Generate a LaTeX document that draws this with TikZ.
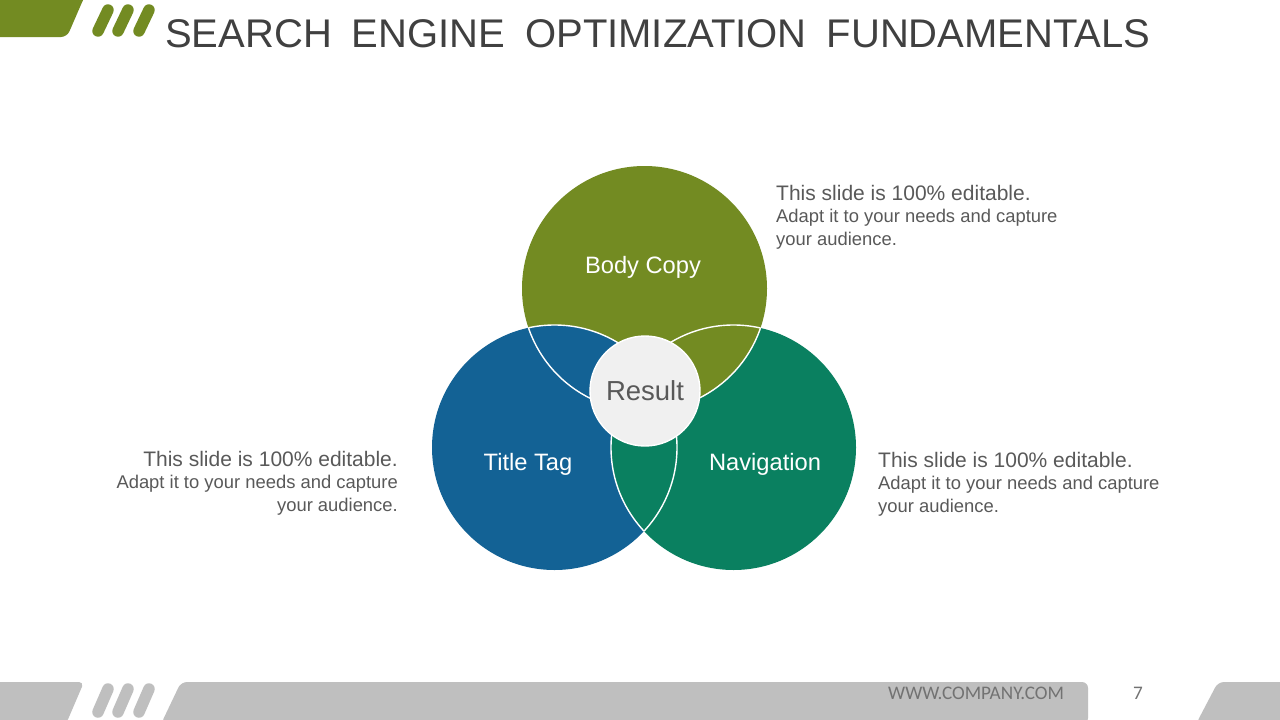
\documentclass[tikz,border=0pt]{standalone}
\usepackage{fontspec}
\setmainfont{Liberation Sans}
\newfontfamily\footfont{Carlito}
\definecolor{myolive}{HTML}{738B22}
\definecolor{myblue}{HTML}{136295}
\definecolor{myteal}{HTML}{0A8060}
\definecolor{resgray}{HTML}{F0F0F0}
\definecolor{txtgray}{HTML}{595959}
\definecolor{titlegray}{HTML}{404040}
\definecolor{footgray}{HTML}{BFBFBF}
\tikzset{
  venn/.style={circle, minimum size=245pt, inner sep=0pt},
  lensline/.style={draw=white, line width=1.4pt},
  bar/.style={line width=11.5pt, line cap=round},
  label/.style={text=white, font=\fontsize{23.7}{28}\selectfont, inner sep=0pt},
  blurb/.style={text=txtgray, font=\fontsize{18.4}{22.5}\selectfont, inner sep=0pt},
}
\newcommand{\firstline}[1]{{\fontsize{21}{22.5}\selectfont #1}}
\newcommand{\wsp}{\hskip 20pt\relax}
\begin{document}
\begin{tikzpicture}[x=1pt,y=-1pt]
\useasboundingbox (0,0) rectangle (1280,720);
\fill[white] (0,0) rectangle (1280,720);

% top-left decoration
\fill[myolive, rounded corners=6pt] (-10,-10) -- (88,-10) -- (83,0) -- (67,37) -- (-10,37) -- cycle;
\draw[bar, myolive] (108,10) -- (98,31);
\draw[bar, myolive] (128,10) -- (118,31);
\draw[bar, myolive] (149,10) -- (139,31);

% title
\node[anchor=base west, inner sep=0pt, text=titlegray, font=\fontsize{40}{48}\selectfont] (title) at (165,47) {SEARCH\wsp ENGINE\wsp OPTIMIZATION\wsp FUNDAMENTALS};

% footer
\fill[footgray, rounded corners=5pt] (-10,682) -- (84,682) -- (66,724) -- (-10,724) -- cycle;
\draw[bar, footgray] (108,689) -- (98,712);
\draw[bar, footgray] (128,689) -- (118,712);
\draw[bar, footgray] (149,689) -- (139,712);
\fill[footgray, rounded corners=6pt] (1088,682) -- (181,682) -- (161,724) -- (1088,724) -- cycle;
\fill[footgray, rounded corners=6pt] (1290,682) -- (1218,682) -- (1196,724) -- (1290,724) -- cycle;
\node[anchor=west, inner sep=0pt, text=txtgray!85!white, font=\footfont\fontsize{19.2}{21}\selectfont] (url) at (888,693) {WWW.COMPANY.COM};
\node[inner sep=0pt, text=txtgray!85!white, font=\footfont\fontsize{19.2}{21}\selectfont] (pagenum) at (1138,693) {7};

% venn circles
\node[venn, fill=myolive] (body) at (644.5,288.5) {};
\node[venn, fill=myblue] (titletag) at (554.5,447.5) {};
\node[venn, fill=myteal] (nav) at (733.5,447.5) {};
\begin{scope}
  \clip (nav.center) circle (122.5pt);
  \fill[myolive] (body.center) circle (122.5pt);
\end{scope}
% white outlines of the overlaps
\begin{scope}
  \clip (body.center) circle (122.5pt);
  \draw[lensline] (titletag.center) circle (122.5pt);
  \draw[lensline] (nav.center) circle (122.5pt);
\end{scope}
\begin{scope}
  \clip (titletag.center) circle (122.5pt);
  \draw[lensline] (body.center) circle (122.5pt);
  \draw[lensline] (nav.center) circle (122.5pt);
\end{scope}
\begin{scope}
  \clip (nav.center) circle (122.5pt);
  \draw[lensline] (body.center) circle (122.5pt);
  \draw[lensline] (titletag.center) circle (122.5pt);
\end{scope}

\node[circle, fill=resgray, draw=white, line width=1.4pt, minimum size=110pt, inner sep=0pt, text=txtgray, font=\fontsize{27.5}{30}\selectfont] (result) at (645,391) {Result};

\node[label] (lbody) at (643,267) {Body Copy};
\node[label] (ltitle) at (528,464) {Title Tag};
\node[label] (lnav) at (765,464) {Navigation};

% blurbs
\node[blurb, anchor=north west, align=left] (b1) at (776,185) {\firstline{This slide is 100\% editable.}\\Adapt it to your needs and capture\\your audience.};
\node[blurb, anchor=north east, align=right] (b2) at (398,451) {\firstline{This slide is 100\% editable.}\\Adapt it to your needs and capture\\your audience.};
\node[blurb, anchor=north west, align=left] (b3) at (878,452) {\firstline{This slide is 100\% editable.}\\Adapt it to your needs and capture\\your audience.};
\end{tikzpicture}
\end{document}
